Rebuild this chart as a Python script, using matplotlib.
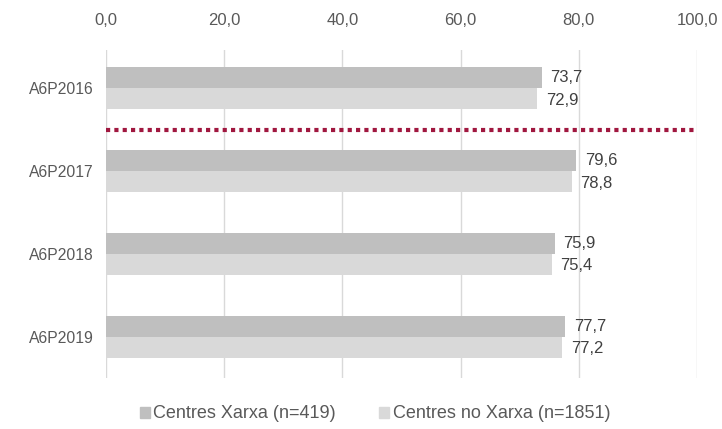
import numpy as np
import matplotlib.pyplot as plt
from matplotlib.patches import Patch

plt.rcParams['font.family'] = ['Liberation Sans', 'DejaVu Sans']

categories = ["A6P2016", "A6P2017", "A6P2018", "A6P2019"]
xarxa = [73.7, 79.6, 75.9, 77.7]
no_xarxa = [72.9, 78.8, 75.4, 77.2]
series_names = ["Centres Xarxa (n=419)", "Centres no Xarxa (n=1851)"]
xticks = [0, 20, 40, 60, 80, 100]

c_dark = "#BFBFBF"
c_light = "#D9D9D9"
txt = "#404040"

fig = plt.figure(figsize=(7.22, 4.29), dpi=100)
ax = fig.add_axes([106/722, 1-378/429, 591/722, 328/429])

y = np.arange(len(categories))
h = 0.253
ax.barh(y - h/2, xarxa, height=h, color=c_dark, zorder=2)
ax.barh(y + h/2, no_xarxa, height=h, color=c_light, zorder=2)

for i in range(len(categories)):
    ax.text(xarxa[i] + 1.5, y[i] - h/2, f"{xarxa[i]:.1f}".replace(".", ","),
            va="center", ha="left", fontsize=12, color=txt)
    ax.text(no_xarxa[i] + 1.5, y[i] + h/2 + 0.02, f"{no_xarxa[i]:.1f}".replace(".", ","),
            va="center", ha="left", fontsize=12, color=txt)

# red dotted separator between 2016 and 2017
ax.plot([0, 100], [0.5, 0.5], color="#A0173F", lw=3, ls=(0, (1, 1)), zorder=3, clip_on=False)

ax.set_xlim(0, 100)
ax.set_ylim(3.5, -0.46)
ax.set_xticks(xticks)
ax.set_xticklabels([f"{v:.1f}".replace(".", ",") for v in xticks])
ax.xaxis.tick_top()
ax.set_yticks(y)
ax.set_yticklabels(categories)
ax.tick_params(axis="both", length=0, labelcolor="#595959")
ax.tick_params(axis="x", pad=16, labelsize=12)
ax.tick_params(axis="y", pad=9, labelsize=11.3)
ax.grid(axis="x", color="#D9D9D9", lw=1, zorder=0)
for s in ax.spines.values():
    s.set_visible(False)

handles = [Patch(color=c_dark), Patch(color=c_light)]
fig.legend(handles, series_names, loc="center", bbox_to_anchor=(375/722, 1-414/429),
           ncol=2, frameon=False, fontsize=13, handlelength=0.55, handleheight=0.55,
           handletextpad=0.2, columnspacing=2.4, labelcolor="#595959")

fig.savefig("out.png", dpi=100)
